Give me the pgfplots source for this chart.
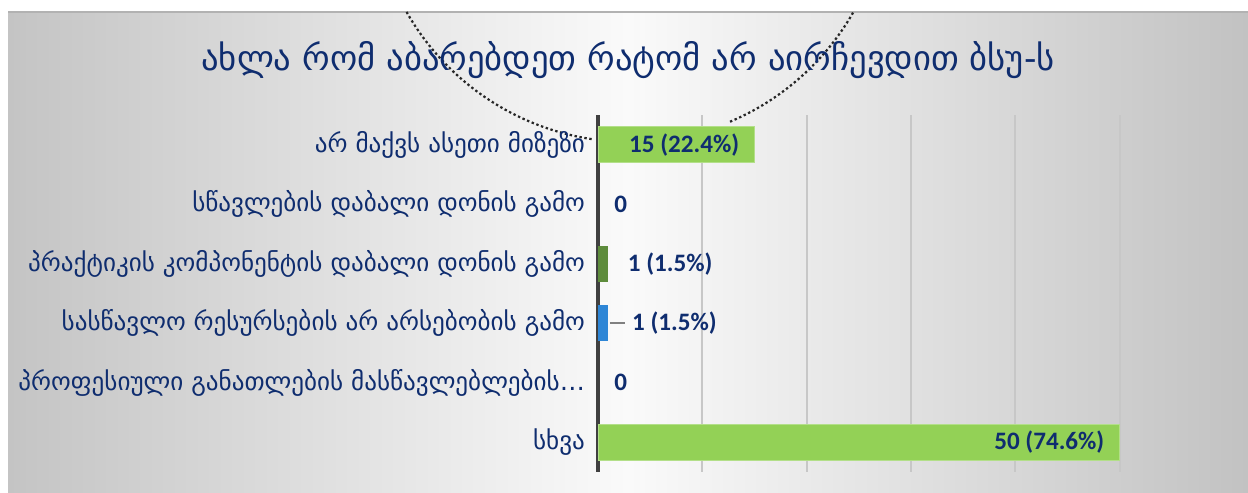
\documentclass[border=0pt]{standalone}
\usepackage{fontspec}
\usepackage{pgfplots}
\pgfplotsset{compat=1.18}
\setmainfont{Carlito}
\newfontfamily\geo{DejaVu Sans}
\definecolor{navy}{HTML}{0F2D6F}
\definecolor{lgreen}{HTML}{93D156}
\definecolor{dgreen}{HTML}{5E8C3C}
\definecolor{barblue}{HTML}{2E86D6}
\definecolor{bgside}{HTML}{C4C4C4}
\definecolor{bgright}{HTML}{C2C2C2}
\definecolor{bgmid}{HTML}{FAFAFA}
\begin{document}
\begin{tikzpicture}
\path[use as bounding box] (0bp,0bp) rectangle (624bp,246.5bp);
\shade[left color=bgside, right color=bgright, middle color=bgmid] (4bp,0bp) rectangle (624bp,240.5bp);
\draw[black!30, line width=1bp] (4bp,240.5bp) -- (624bp,240.5bp);
\begin{scope}
\clip (4bp,0bp) rectangle (624bp,240.5bp);
\draw[black!85, dash pattern=on 1.2bp off 1.3bp, line width=1.1bp] (315bp,304bp) ++(209.6:128.5bp) arc[start angle=209.6, end angle=261.5, radius=128.5bp];
\draw[black!85, dash pattern=on 1.2bp off 1.3bp, line width=1.1bp] (315bp,304bp) ++(292.9:128.5bp) arc[start angle=292.9, end angle=330.6, radius=128.5bp];
\end{scope}
\node[font=\geo\fontsize{17.4}{20}\selectfont, text=navy] at (314bp,216.5bp) {ახლა რომ აბარებდეთ რატომ არ აირჩევდით ბსუ-ს};
\begin{axis}[
  at={(299bp,10.5bp)}, anchor=south west,
  scale only axis, width=313bp, height=178.5bp,
  xmin=0, xmax=60, ymin=-0.5, ymax=5.5,
  y dir=reverse,
  xbar, bar width=18bp, bar shift=0pt,
  axis x line=bottom, axis y line=left,
  axis line style={-},
  x axis line style={draw=none},
  y axis line style={draw=black!75, line width=1.6bp},
  xtick={10,20,30,40,50}, xticklabels={},
  xmajorgrids, major grid style={draw=black!22, line width=0.9bp},
  ytick={0,1,2,3,4,5},
  yticklabels={არ მაქვს ასეთი მიზეზი, სწავლების დაბალი დონის გამო, პრაქტიკის კომპონენტის დაბალი დონის გამო, სასწავლო რესურსების არ არსებობის გამო, პროფესიული განათლების მასწავლებლების…, სხვა},
  yticklabel style={font=\geo\fontsize{12.6}{14}\selectfont, text=navy, anchor=east, xshift=-3bp},
  major tick length=0pt,
  clip=false,
]
\addplot[fill=lgreen, draw=lgreen!70!white, line width=0.5bp] coordinates {(15,0) (50,5)};
\addplot[fill=dgreen, draw=none] coordinates {(1,2)};
\addplot[fill=barblue, draw=none] coordinates {(1,3)};
\draw[black!50, line width=0.8bp] (axis cs:1.15,3) -- (axis cs:2.6,3);
\node[anchor=east, font=\bfseries\fontsize{12.6}{14}\selectfont, text=navy] at (axis cs:14.2,0) {15 (22.4\%)};
\node[anchor=west, font=\bfseries\fontsize{12.6}{14}\selectfont, text=navy] at (axis cs:0.9,1) {0};
\node[anchor=west, font=\bfseries\fontsize{12.6}{14}\selectfont, text=navy] at (axis cs:2.2,2) {1 (1.5\%)};
\node[anchor=west, font=\bfseries\fontsize{12.6}{14}\selectfont, text=navy] at (axis cs:2.6,3) {1 (1.5\%)};
\node[anchor=west, font=\bfseries\fontsize{12.6}{14}\selectfont, text=navy] at (axis cs:0.9,4) {0};
\node[anchor=east, font=\bfseries\fontsize{12.6}{14}\selectfont, text=navy] at (axis cs:49.2,5) {50 (74.6\%)};
\end{axis}
\end{tikzpicture}
\end{document}
